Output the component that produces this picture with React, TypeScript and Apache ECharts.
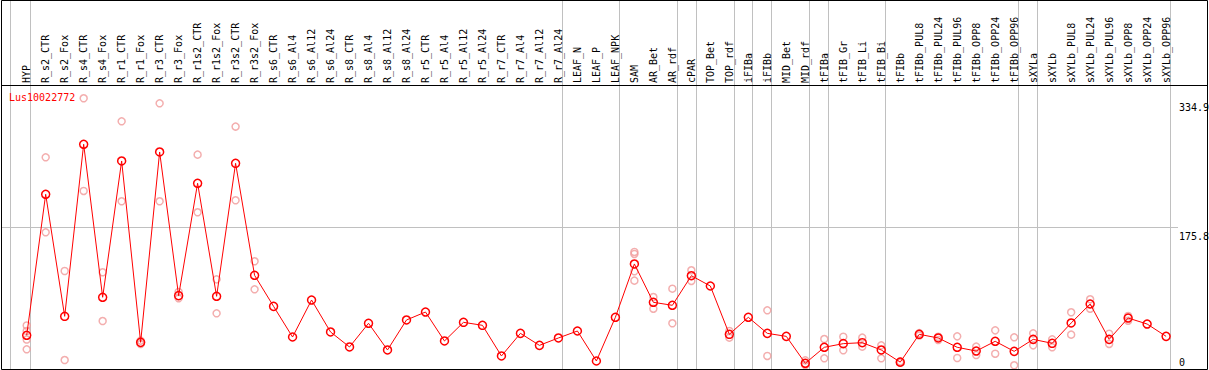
import React, { useEffect, useRef } from "react";
import * as echarts from "echarts";

const geneName = "Lus10022772";

const categories = [
  "HYP", "R_s2_CTR", "R_s2_Fox", "R_s4_CTR", "R_s4_Fox", "R_r1_CTR", "R_r1_Fox", "R_r3_CTR", "R_r3_Fox",
  "R_r1s2_CTR", "R_r1s2_Fox", "R_r3s2_CTR", "R_r3s2_Fox", "R_s6_CTR", "R_s6_Al4", "R_s6_Al12", "R_s6_Al24",
  "R_s8_CTR", "R_s8_Al4", "R_s8_Al12", "R_s8_Al24", "R_r5_CTR", "R_r5_Al4", "R_r5_Al12", "R_r5_Al24",
  "R_r7_CTR", "R_r7_Al4", "R_r7_Al12", "R_r7_Al24", "LEAF_N", "LEAF_P", "LEAF_NPK", "SAM", "AR_Bet",
  "AR_rdf", "cPAR", "TOP_Bet", "TOP_rdf", "iFIBa", "iFIBb", "MID_Bet", "MID_rdf", "tFIBa", "tFIB_Gr",
  "tFIB_Li", "tFIB_Bi", "tFIBb", "tFIBb_PUL8", "tFIBb_PUL24", "tFIBb_PUL96", "tFIBb_OPP8", "tFIBb_OPP24",
  "tFIBb_OPP96", "sXYLa", "sXYLb", "sXYLb_PUL8", "sXYLb_PUL24", "sXYLb_PUL96", "sXYLb_OPP8",
  "sXYLb_OPP24", "sXYLb_OPP96",
];

const meanValues = [
  42.8, 216.7, 66.2, 278.4, 89.7, 257.8, 34.1, 268.9, 91.7, 230.3, 90.9, 254.9, 116.8,
  78.5, 40.7, 86.3, 46.9, 28.4, 57.6, 24.7, 61.7, 71.5, 35.8, 58.8, 55.1, 17.3, 45.2, 30.4, 39.5,
  48.1, 11.1, 65.0, 130.8, 83.5, 79.8, 116.3, 103.6, 44.0, 65.0, 45.2, 41.5, 8.3, 28.0, 32.5, 33.7,
  24.7, 9.7, 44.0, 39.5, 28.0, 23.4, 35.4, 23.0, 37.8, 32.9, 58.0, 81.4, 37.8, 64.1, 56.7, 41.5,
];

const replicateValues: number[][] = [
  [54.9, 48.1, 37.6, 25.5], [262.3, 169.8], [122.1, 12.3], [335.1, 220.8], [120.5, 60.4],
  [306.7, 208.1], [36.2, 32.0], [328.9, 208.1], [96.2, 88.4], [265.6, 194.5], [111.8, 69.9],
  [300.2, 209.3], [134.1, 99.5],
  [], [], [], [], [], [], [], [], [], [], [], [], [], [], [], [], [], [], [],
  [145.6, 143.1, 121.7, 110.2], [90.0, 75.6], [100.3, 57.6], [123.0, 109.8], [], [48.1, 39.9], [],
  [73.6, 17.3], [], [11.9, 6.2], [38.2, 14.4], [41.1, 24.3], [39.9, 28.8], [30.4, 14.4], [10.5, 9.0],
  [45.5, 42.5], [41.0, 37.0], [41.5, 14.8], [28.8, 18.5], [48.9, 20.1], [40.3, 5.8], [45.2, 30.4],
  [37.8, 28.0], [71.2, 43.6], [87.2, 75.6], [44.8, 32.1], [66.6, 60.8], [], [],
];

const yTickLabels = [0, 175.8, 334.9];
const refLineValue = 175.8;
const yMax = 351.5;

// group separators, in category units (fractional positions between categories)
const separatorPositions = [-0.88, 0.19, 28.2, 31.2, 34.22, 35.22, 37.22, 38.22, 39.22, 41.22, 42.22, 45.2, 52.22, 53.22, 60.22];

const MONO = "'DejaVu Sans Mono', monospace";

export default function App() {
  const ref = useRef<HTMLDivElement>(null);

  useEffect(() => {
    const chart = echarts.init(ref.current!, null, { renderer: "svg" });
    const replicatePoints: number[][] = [];
    replicateValues.forEach((arr, i) => arr.forEach((v) => replicatePoints.push([i, v])));

    chart.setOption({
      animation: false,
      backgroundColor: "#ffffff",
      grid: { left: 17.2, right: 33.4, top: 85, bottom: 0, containLabel: false },
      xAxis: {
        type: "category",
        data: categories,
        position: "top",
        boundaryGap: true,
        axisLine: { show: false },
        axisTick: { show: false },
        splitLine: { show: false },
        axisLabel: { interval: 0, rotate: 90, margin: 2, fontFamily: MONO, fontSize: 10, color: "#000" },
      },
      yAxis: { type: "value", min: 0, max: yMax, show: false },
      series: [
        {
          type: "scatter",
          data: replicatePoints,
          symbol: "circle",
          symbolSize: 7,
          itemStyle: { color: "rgba(0,0,0,0)", borderColor: "#f09a9a", borderWidth: 1.5 },
          z: 2,
        },
        {
          type: "line",
          data: meanValues,
          symbol: "circle",
          symbolSize: 8,
          lineStyle: { color: "#ff0000", width: 1 },
          itemStyle: { color: "rgba(0,0,0,0)", borderColor: "#ff0000", borderWidth: 1.5 },
          z: 3,
        },
      ],
    });

    const p0 = chart.convertToPixel({ gridIndex: 0 }, [0, 0]) as number[];
    const p1 = chart.convertToPixel({ gridIndex: 0 }, [1, 0]) as number[];
    const band = p1[0] - p0[0];
    const yOf = (v: number) => (chart.convertToPixel({ gridIndex: 0 }, [0, v]) as number[])[1];

    const graphics: any[] = [];
    separatorPositions.forEach((p) => {
      const x = Math.round(p0[0] + p * band) + 0.5;
      graphics.push({ type: "line", shape: { x1: x, y1: 0, x2: x, y2: 369 }, style: { stroke: "#c0c0c0", lineWidth: 1 }, z: 0, silent: true });
    });
    const yr = Math.round(yOf(refLineValue)) + 0.5;
    graphics.push({ type: "line", shape: { x1: 1, y1: yr, x2: 1178, y2: yr }, style: { stroke: "#c0c0c0", lineWidth: 1 }, z: 0, silent: true });
    // frame
    graphics.push({ type: "rect", shape: { x: 1.5, y: 0.5, width: 1206, height: 369 }, style: { fill: "none", stroke: "#000", lineWidth: 1 }, z: 10, silent: true });
    graphics.push({ type: "line", shape: { x1: 1.5, y1: 85.5, x2: 1207.5, y2: 85.5 }, style: { stroke: "#000", lineWidth: 1 }, z: 10, silent: true });
    // y labels
    yTickLabels.forEach((v) => {
      const y = yOf(v);
      const cy = v === 0 ? y - 8 : y + 9.5;
      graphics.push({
        type: "text", x: 1179, y: cy,
        style: { text: String(v), fontFamily: MONO, fontSize: 10, fill: "#000", align: "left", verticalAlign: "middle" },
        z: 11, silent: true,
      });
    });
    graphics.push({
      type: "text", x: 9, y: 97,
      style: { text: geneName, fontFamily: MONO, fontSize: 10, fill: "#ff0000", align: "left", verticalAlign: "middle" },
      z: 11, silent: true,
    });

    chart.setOption({ graphic: graphics });

    return () => chart.dispose();
  }, []);

  return (
    <div
      ref={ref}
      style={{ position: "fixed", left: 0, top: 0, width: 1209, height: 370, background: "#fff" }}
    />
  );
}
